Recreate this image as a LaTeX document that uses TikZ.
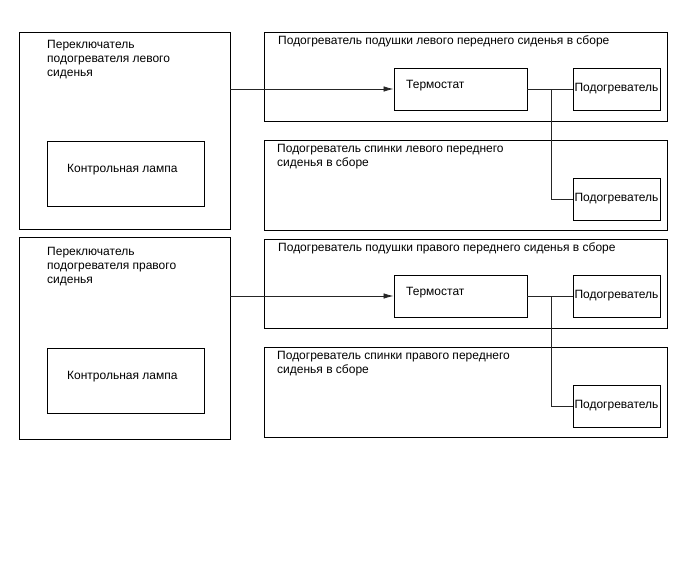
\documentclass[tikz,border=0pt]{standalone}
\usepackage{fontspec}
\setmainfont{Liberation Sans}
\usetikzlibrary{arrows.meta}

\begin{document}
\begin{tikzpicture}[x=1pt, y=-1pt,
    box/.style={draw, line width=0.9pt, inner sep=0pt},
    unit/.style={box, minimum width=87pt, minimum height=42pt, font=\fontsize{12}{14}\selectfont},
    txt/.style={font=\fontsize{12}{14}\selectfont, inner sep=0pt, align=left, anchor=north west},
    wire/.style={black!85, line width=0.8pt}]
  \useasboundingbox (0,0) rectangle (688,560);

  \foreach \i/\dy/\side/\st/\sb in {1/0/левого/32/229, 2/207/правого/237/439} {
    % Switch with its lamp, on the left.
    \node[box, minimum width=211pt, minimum height=\sb-\st] (sw\i) at (124.5,{(\st+\sb)/2}) {};
    \node[txt] (swt\i) at (47,40+\dy) {Переключатель\\подогревателя \side\\сиденья};
    \node[box, minimum width=157pt, minimum height=65pt] (lamp\i) at (125.5,173.5+\dy) {};
    \node[txt] (lampt\i) at (67,164+\dy) {Контрольная лампа};

    % Cushion heater: thermostat and heater.
    \node[box, minimum width=403pt, minimum height=89pt] (cush\i) at (465.5,76.5+\dy) {};
    \node[txt] (cusht\i) at (278,35.5+\dy) {Подогреватель подушки \side{} переднего сиденья в сборе};
    \node[box, minimum width=133pt, minimum height=42pt] (therm\i) at (460.5,89+\dy) {};
    \node[txt] (thermt\i) at (406,80.5+\dy) {Термостат};
    \node[unit] (heat\i) at (616.5,89+\dy) {Подогреватель};

    % Backrest heater.
    \node[box, minimum width=403pt, minimum height=90pt] (back\i) at (465.5,185+\dy) {};
    \node[txt] (backt\i) at (277,144.5+\dy) {Подогреватель спинки \side{} переднего\\сиденья в сборе};
    \node[unit] (heatb\i) at (616.5,199+\dy) {Подогреватель};

    % Wiring.
    \draw[wire, -{Latex[length=10pt, width=5.5pt]}] (sw\i.east |- therm\i.west) -- (therm\i.west);
    \draw[wire] (therm\i) -- (heat\i);
    \coordinate (tap\i) at (551,89+\dy);
    \draw[wire] (tap\i) |- (heatb\i.west);
  }
\end{tikzpicture}
\end{document}
